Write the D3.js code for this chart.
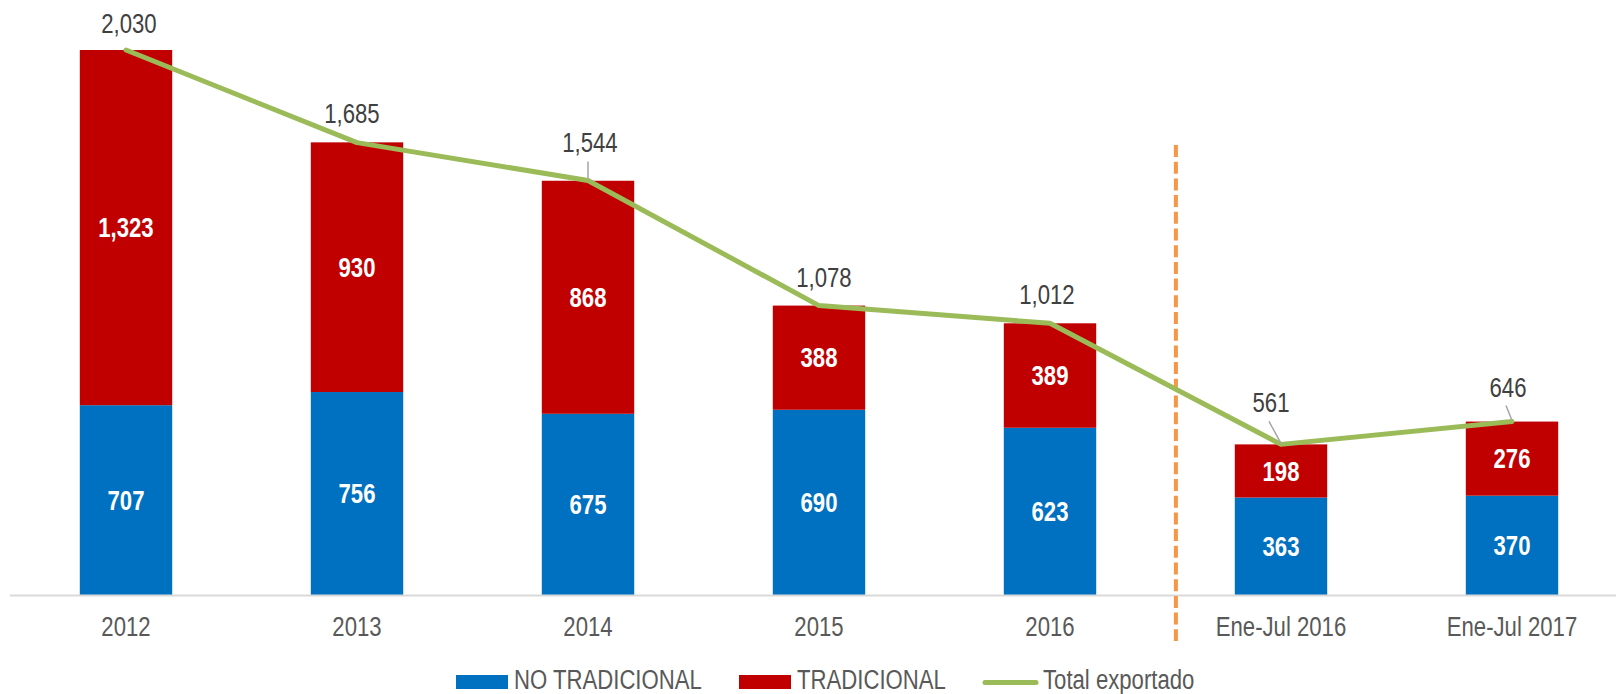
<!DOCTYPE html>
<html>
<head>
<meta charset="utf-8">
<script src="https://cdn.jsdelivr.net/npm/d3@7"></script>
<style>
  body { margin: 0; background: #fff; }
  svg text { font-family: "Liberation Sans Narrow", "Arial Narrow", "Liberation Sans", Arial, sans-serif; }
</style>
</head>
<body>
<div id="chart"></div>
<script>
// Data
const categories = ['2012', '2013', '2014', '2015', '2016', 'Ene-Jul 2016', 'Ene-Jul 2017'];
const noTradicional = [707, 756, 675, 690, 623, 363, 370];
const tradicional = [1323, 930, 868, 388, 389, 198, 276];
const totalExportado = [2030, 1685, 1544, 1078, 1012, 561, 646];
const seriesNames = ['NO TRADICIONAL', 'TRADICIONAL', 'Total exportado'];

// label offsets for total labels (dx, dy from the point), leader line flag
const totalLabelPos = [
  { dx: 3, dy: -17, leader: false },
  { dx: -5, dy: -20, leader: false },
  { dx: 2, dy: -28, leader: true },
  { dx: 5, dy: -19, leader: false },
  { dx: -3, dy: -19, leader: false },
  { dx: -10, dy: -32, leader: true },
  { dx: -4, dy: -25, leader: true }
];

const width = 1616;
const height = 694;
const baseline = 595;
const fontSize = 27;

const colors = { noTrad: '#0070C0', trad: '#C00000', total: '#9BBB59' };

// Scales
const xScale = d3.scaleBand()
  .domain(categories)
  .range([10.5, 1627.5])
  .paddingInner(0.6)
  .paddingOuter(0.3);

const yScale = d3.scaleLinear()
  .domain([0, 2030])
  .range([baseline, 50]);

const cx = (c) => xScale(c) + xScale.bandwidth() / 2;

const svg = d3.select('#chart').append('svg')
  .attr('width', width)
  .attr('height', height);

// Bars
const rows = categories.map((c, i) => ({
  cat: c, nt: noTradicional[i], t: tradicional[i], total: totalExportado[i]
}));

svg.selectAll('.bar-nt')
  .data(rows).enter().append('rect')
  .attr('class', 'bar-nt')
  .attr('x', d => xScale(d.cat))
  .attr('width', xScale.bandwidth())
  .attr('y', d => yScale(d.nt))
  .attr('height', d => yScale(0) - yScale(d.nt))
  .attr('fill', colors.noTrad);

svg.selectAll('.bar-t')
  .data(rows).enter().append('rect')
  .attr('class', 'bar-t')
  .attr('x', d => xScale(d.cat))
  .attr('width', xScale.bandwidth())
  .attr('y', d => yScale(d.nt + d.t))
  .attr('height', d => yScale(d.nt) - yScale(d.nt + d.t))
  .attr('fill', colors.trad);

// Axis line
svg.append('line')
  .attr('x1', 10).attr('x2', width)
  .attr('y1', baseline + 0.5).attr('y2', baseline + 0.5)
  .attr('stroke', '#d9d9d9')
  .attr('stroke-width', 2);

// Category labels
const xAxis = d3.axisBottom(xScale).tickSize(0).tickPadding(0);
const xAxisGroup = svg.append('g')
  .attr('transform', `translate(0, ${baseline})`)
  .call(xAxis);
xAxisGroup.select('.domain').remove();
xAxisGroup.selectAll('text')
  .attr('y', 0)
  .attr('dy', 41)
  .attr('font-size', fontSize)
  .attr('fill', '#595959')
  .style('font-family', '"Liberation Sans Narrow", "Arial Narrow", "Liberation Sans", Arial, sans-serif');

// Separator dashed line
const step = xScale.step();
const divX = cx('2016') + step * 0.545;
svg.append('line')
  .attr('x1', divX).attr('x2', divX)
  .attr('y1', 145).attr('y2', 641)
  .attr('stroke', '#F79646')
  .attr('stroke-width', 4)
  .attr('stroke-dasharray', '12,4.7');

// Segment labels
svg.selectAll('.lbl-nt')
  .data(rows).enter().append('text')
  .attr('x', d => cx(d.cat))
  .attr('y', d => (yScale(0) + yScale(d.nt)) / 2)
  .attr('dy', '0.36em')
  .attr('text-anchor', 'middle')
  .attr('font-size', fontSize)
  .attr('font-weight', 'bold')
  .attr('fill', '#fff')
  .text(d => d3.format(',')(d.nt));

svg.selectAll('.lbl-t')
  .data(rows).enter().append('text')
  .attr('x', d => cx(d.cat))
  .attr('y', d => (yScale(d.nt) + yScale(d.nt + d.t)) / 2)
  .attr('dy', '0.36em')
  .attr('text-anchor', 'middle')
  .attr('font-size', fontSize)
  .attr('font-weight', 'bold')
  .attr('fill', '#fff')
  .text(d => d3.format(',')(d.t));

// Total line
const totalLine = d3.line()
  .x(d => cx(d.cat))
  .y(d => yScale(d.total));

svg.append('path')
  .attr('d', totalLine(rows))
  .attr('fill', 'none')
  .attr('stroke', colors.total)
  .attr('stroke-width', 5)
  .attr('stroke-linejoin', 'round')
  .attr('stroke-linecap', 'round');

// Leader lines and total labels
rows.forEach((d, i) => {
  const p = totalLabelPos[i];
  const px = cx(d.cat);
  const py = yScale(d.total);
  if (p.leader) {
    svg.append('line')
      .attr('x1', px + p.dx - 2).attr('y1', py + p.dy + 9)
      .attr('x2', px).attr('y2', py - 1)
      .attr('stroke', '#a6a6a6')
      .attr('stroke-width', 1.5);
  }
  svg.append('text')
    .attr('x', px + p.dx)
    .attr('y', py + p.dy)
    .attr('text-anchor', 'middle')
    .attr('font-size', fontSize)
    .attr('fill', '#404040')
    .text(d3.format(',')(d.total));
});

// Legend
const legend = svg.append('g').attr('class', 'legend');
const legendItems = [
  { name: seriesNames[0], color: colors.noTrad, x: 456, type: 'rect' },
  { name: seriesNames[1], color: colors.trad, x: 739, type: 'rect' },
  { name: seriesNames[2], color: colors.total, x: 983, type: 'line' }
];
legendItems.forEach(item => {
  if (item.type === 'rect') {
    legend.append('rect')
      .attr('x', item.x).attr('y', 675)
      .attr('width', 52).attr('height', 14)
      .attr('fill', item.color);
  } else {
    legend.append('line')
      .attr('x1', item.x + 2).attr('x2', item.x + 53)
      .attr('y1', 682.5).attr('y2', 682.5)
      .attr('stroke', item.color)
      .attr('stroke-width', 5)
      .attr('stroke-linecap', 'round');
  }
  legend.append('text')
    .attr('x', item.x + (item.type === 'rect' ? 58 : 60))
    .attr('y', 689)
    .attr('font-size', fontSize)
    .attr('fill', '#595959')
    .text(item.name);
});

// No narrow font installed: squeeze glyphs to Arial Narrow proportions
svg.selectAll('text').each(function() {
  const len = this.getComputedTextLength();
  d3.select(this)
    .attr('textLength', len * 0.82)
    .attr('lengthAdjust', 'spacingAndGlyphs');
});
</script>
</body>
</html>
